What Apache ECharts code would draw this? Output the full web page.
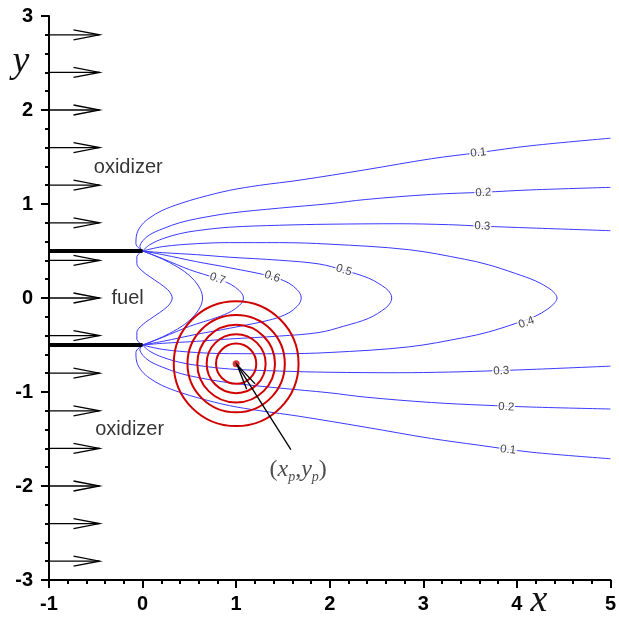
<!DOCTYPE html>
<html><head><meta charset="utf-8">
<script src="https://cdn.jsdelivr.net/npm/echarts@6/dist/echarts.min.js"></script>
<style>html,body{margin:0;padding:0;background:#fff}#c{width:619px;height:619px}</style>
</head><body><div id="c"></div>
<script>
// ---- data ----
const xTicks = [-1, 0, 1, 2, 3, 4, 5];
const yTicks = [-3, -2, -1, 0, 1, 2, 3];

// contour 0.1 / 0.2 / 0.3 (open branches, upper and lower)
const c01Upper = [[0,0.5],[-0.071,0.578],[-0.061,0.684],[-0.007,0.780],[0.078,0.854],[0.205,0.929],[0.397,1.003],[0.610,1.067],[0.929,1.145],[1.248,1.198],[1.673,1.253],[2.386,1.365],[3.088,1.482],[3.588,1.546],[4.152,1.620],[5,1.700]];
const c01Lower = [[0,-0.5],[-0.071,-0.578],[-0.061,-0.684],[-0.007,-0.780],[0.078,-0.854],[0.205,-0.929],[0.397,-1.003],[0.610,-1.067],[0.929,-1.145],[1.248,-1.198],[1.673,-1.258],[2.386,-1.375],[3.088,-1.495],[3.588,-1.565],[4.152,-1.640],[5,-1.710]];
const c02Upper = [[0,0.5],[-0.029,0.546],[0.003,0.610],[0.078,0.674],[0.216,0.737],[0.397,0.801],[0.578,0.843],[0.929,0.902],[1.461,0.956],[1.993,1.003],[2.386,1.048],[3.088,1.102],[3.641,1.125],[4.152,1.150],[5,1.177]];
const c02Lower = [[0,-0.5],[-0.029,-0.546],[0.003,-0.610],[0.078,-0.674],[0.216,-0.737],[0.397,-0.801],[0.578,-0.843],[0.929,-0.902],[1.461,-0.958],[1.993,-1.008],[2.386,-1.055],[3.088,-1.112],[3.641,-1.140],[4.152,-1.160],[5,-1.181]];
const c03Upper = [[0,0.5],[0.078,0.567],[0.216,0.631],[0.397,0.684],[0.578,0.716],[0.929,0.753],[1.461,0.774],[1.993,0.785],[2.737,0.790],[3.269,0.780],[3.631,0.764],[4.152,0.745],[5,0.716]];
const c03Lower = [[0,-0.5],[0.078,-0.567],[0.216,-0.631],[0.397,-0.684],[0.578,-0.716],[0.929,-0.755],[1.461,-0.777],[1.993,-0.790],[2.737,-0.795],[3.269,-0.788],[3.631,-0.778],[4.152,-0.760],[5,-0.725]];
// closed contours 0.4 ... 0.9 (upper edge -> nose -> lower edge)
const c04 = [[0,0.5],[0.216,0.547],[0.578,0.578],[0.929,0.589],[1.461,0.589],[1.993,0.573],[2.844,0.514],[3.439,0.413],[3.695,0.354],[3.982,0.262],[4.195,0.184],[4.333,0.110],[4.407,0.048],[4.429,0],[4.407,-0.048],[4.333,-0.115],[4.195,-0.195],[3.982,-0.272],[3.695,-0.362],[3.439,-0.420],[2.844,-0.520],[1.993,-0.580],[1.461,-0.593],[0.929,-0.592],[0.578,-0.580],[0.216,-0.547],[0,-0.5]];
const c05 = [[0,0.5],[0.216,0.482],[0.578,0.461],[0.929,0.434],[1.461,0.402],[1.886,0.362],[2.150,0.295],[2.418,0.210],[2.596,0.106],[2.648,0.050],[2.663,0],[2.648,-0.050],[2.596,-0.108],[2.418,-0.215],[2.150,-0.300],[1.886,-0.367],[1.461,-0.405],[0.929,-0.436],[0.578,-0.461],[0.216,-0.482],[0,-0.5]];
const c06 = [[0,0.5],[0.216,0.461],[0.578,0.386],[0.929,0.322],[1.386,0.227],[1.565,0.157],[1.652,0.088],[1.684,0.045],[1.695,0],[1.684,-0.045],[1.652,-0.088],[1.565,-0.157],[1.386,-0.227],[0.929,-0.322],[0.578,-0.386],[0.216,-0.461],[0,-0.5]];
const c07 = [[0,0.5],[0.216,0.418],[0.503,0.301],[0.801,0.205],[0.950,0.141],[1.035,0.078],[1.067,0.040],[1.078,0],[1.067,-0.040],[1.035,-0.078],[0.950,-0.141],[0.801,-0.205],[0.503,-0.301],[0.216,-0.418],[0,-0.5]];
const c08 = [[0,0.5],[0.131,0.450],[0.290,0.376],[0.450,0.280],[0.556,0.184],[0.620,0.088],[0.636,0.040],[0.641,0],[0.636,-0.040],[0.620,-0.088],[0.556,-0.184],[0.450,-0.280],[0.290,-0.376],[0.131,-0.450],[0,-0.5]];
const c09 = [[0,0.5],[-0.061,0.439],[-0.061,0.365],[-0.007,0.290],[0.078,0.226],[0.180,0.157],[0.269,0.088],[0.305,0.040],[0.317,0],[0.305,-0.040],[0.269,-0.088],[0.180,-0.157],[0.078,-0.226],[-0.007,-0.290],[-0.061,-0.365],[-0.061,-0.439],[0,-0.5]];

// contour labels: [x, y, text, rotation]
const contourLabels = [
  [3.588, 1.546, '0.1', 6], [3.641, 1.120, '0.2', 2], [3.631, 0.764, '0.3', -2],
  [4.102, -0.262, '0.4', 20], [2.152, 0.296, '0.5', -18], [1.386, 0.227, '0.6', -18],
  [0.801, 0.205, '0.7', -18], [3.833, -0.776, '0.3', 3], [3.886, -1.160, '0.2', -3],
  [3.907, -1.614, '0.1', -7]
];

// droplet: centre and ring radii
const dropCenter = [1.0, -0.699];
const ringRadii = [0.215, 0.315, 0.415, 0.52, 0.667];

// inflow arrows
const inflowY = [2.8, 2.4, 2.0, 1.6, 1.2, 0.8, 0.4, 0, -0.4, -0.8, -1.2, -1.6, -2.0, -2.4, -2.8];
const inflowX = [-1, -0.46];
// splitter plates
const plateY = [0.5, -0.5];
const plateX = [-1, 0];
// pointer arrow to droplet: tail -> tip
const pointerArrow = [1.585, -1.614, 1.009, -0.708];

// region texts
const regionTexts = [[-0.153, 1.386, 'oxidizer'], [-0.16, 0.0, 'fuel'], [-0.138, -1.40, 'oxidizer']];
const dropLabelPos = [1.663, -1.828];

// ---- chart ----
const chart = echarts.init(document.getElementById('c'));
const blue = '#3a3aff';
const lineBase = {type: 'line', showSymbol: false, symbol: 'none', smooth: 0.35, lineStyle: {color: blue, width: 1}, z: 2, silent: true};
const contourSets = [c01Upper, c01Lower, c02Upper, c02Lower, c03Upper, c03Lower, c04, c05, c06, c07, c08, c09];
const series = contourSets.map(d => Object.assign({}, lineBase, {data: d}));

plateY.forEach(py => series.push({type: 'line', symbol: 'none', data: plateX.map(px => [px, py]), lineStyle: {color: '#000', width: 4}, z: 3}));

const arrowRender = function (params, api) {
  const p0 = api.coord([api.value(0), api.value(1)]);
  const p1 = api.coord([api.value(2), api.value(3)]);
  const dx = p1[0] - p0[0], dy = p1[1] - p0[1];
  const len = Math.hypot(dx, dy), ux = dx / len, uy = dy / len;
  const L = 26, W = 5;
  const bx = p1[0] - ux * L, by = p1[1] - uy * L;
  return {type: 'group', children: [
    {type: 'line', shape: {x1: p0[0], y1: p0[1], x2: p1[0], y2: p1[1]}, style: {stroke: '#000', lineWidth: 1.3}},
    {type: 'polyline', shape: {points: [[bx - uy * W, by + ux * W], [p1[0], p1[1]], [bx + uy * W, by - ux * W]]}, style: {stroke: '#000', fill: null, lineWidth: 1.3}}
  ]};
};
series.push({type: 'custom', renderItem: arrowRender, data: inflowY.map(y => [inflowX[0], y, inflowX[1], y]), z: 4, silent: true});

series.push({type: 'custom', z: 5, silent: true, data: ringRadii.map(r => [dropCenter[0], dropCenter[1], r]),
  renderItem: function (params, api) {
    const c = api.coord([api.value(0), api.value(1)]);
    const r = api.size([api.value(2), 0])[0];
    return {type: 'circle', shape: {cx: c[0], cy: c[1], r: r}, style: {fill: null, stroke: '#d00000', lineWidth: 2}};
  }});
series.push({type: 'scatter', data: [dropCenter], symbolSize: 7, itemStyle: {color: '#d00000'}, z: 6, silent: true});
series.push({type: 'custom', renderItem: arrowRender, data: [pointerArrow], z: 7, silent: true});

series.push({type: 'scatter', symbolSize: 0, z: 8, silent: true, clip: false,
  data: contourLabels.map(d => ({value: [d[0], d[1]], name: d[2], label: {rotate: d[3]}})),
  label: {show: true, position: 'inside', formatter: '{b}', fontSize: 11.5, fontFamily: 'Liberation Sans', color: '#111', backgroundColor: '#fff', padding: [0, 1]}});
series.push({type: 'scatter', symbolSize: 0, z: 8, silent: true, clip: false,
  data: regionTexts.map(d => ({value: [d[0], d[1]], name: d[2]})),
  label: {show: true, position: 'inside', formatter: '{b}', fontSize: 20, fontFamily: 'Liberation Sans', color: '#000'}});
series.push({type: 'scatter', symbolSize: 0, z: 8, silent: true, clip: false,
  data: [{value: dropLabelPos, name: 'p'}],
  label: {show: true, position: 'inside', formatter: '{a|(}{i|x}{s|p}{a|,}{i|y}{s|p}{a|)}',
    rich: {a: {fontFamily: 'Liberation Serif', fontSize: 24, color: '#222', lineHeight: 28},
           i: {fontFamily: 'Liberation Serif', fontStyle: 'italic', fontSize: 24, color: '#222', lineHeight: 28},
           s: {fontFamily: 'Liberation Serif', fontStyle: 'italic', fontSize: 14, color: '#222', lineHeight: 14, verticalAlign: 'bottom', padding: [14, 0, 0, 0]}}}});

const axisCommon = {
  type: 'value', interval: 1,
  axisLine: {show: true, onZero: false, lineStyle: {color: '#000', width: 2}},
  axisTick: {show: true, length: 8, lineStyle: {color: '#000', width: 2}},
  minorTick: {show: true, splitNumber: 5, length: 4, lineStyle: {color: '#000', width: 2}},
  splitLine: {show: false}, minorSplitLine: {show: false},
};
chart.setOption({
  animation: false,
  backgroundColor: '#fff',
  grid: {left: 49, top: 16, width: 564, height: 564},
  xAxis: Object.assign({}, axisCommon, {min: xTicks[0], max: xTicks[xTicks.length - 1],
    axisLabel: {color: '#000', fontWeight: 'bold', fontSize: 20, fontFamily: 'Liberation Sans', margin: 14}}),
  yAxis: Object.assign({}, axisCommon, {min: yTicks[0], max: yTicks[yTicks.length - 1],
    axisLabel: {color: '#000', fontWeight: 'bold', fontSize: 20, fontFamily: 'Liberation Sans', margin: 16}}),
  graphic: [
    {type: 'text', style: {text: 'y', x: 21, y: 62, textAlign: 'center', textVerticalAlign: 'middle', font: 'italic 38px "Liberation Serif"', fill: '#111'}},
    {type: 'text', style: {text: 'x', x: 539, y: 601, textAlign: 'center', textVerticalAlign: 'middle', font: 'italic 38px "Liberation Serif"', fill: '#111'}}
  ],
  series: series
});
</script></body></html>
